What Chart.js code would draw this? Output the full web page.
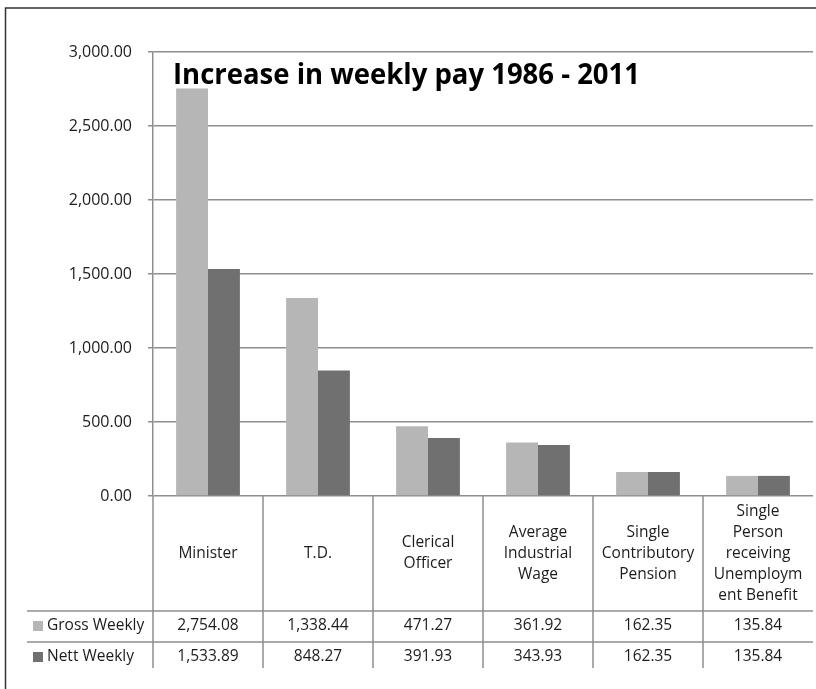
<!DOCTYPE html>
<html lang="en">
<head>
  <meta charset="UTF-8" />
  <title>Increase in weekly pay 1986 - 2011</title>
  <script src="https://cdn.jsdelivr.net/npm/chart.js"></script>
  <style>
    html, body { margin: 0; padding: 0; background: #fff; }
    canvas { display: block; }
  </style>
</head>
<body>
  <canvas id="payChart" width="816" height="689"></canvas>

  <script>
    // categories, one entry per line of the header cell
    const categories = [
      ['Minister'],
      ['T.D.'],
      ['Clerical', 'Officer'],
      ['Average', 'Industrial', 'Wage'],
      ['Single', 'Contributory', 'Pension'],
      ['Single', 'Person', 'receiving', 'Unemploym', 'ent Benefit']
    ];
    const seriesNames = ['Gross Weekly', 'Nett Weekly'];
    const grossWeekly = [2754.08, 1338.44, 471.27, 361.92, 162.35, 135.84];
    const nettWeekly = [1533.89, 848.27, 391.93, 343.93, 162.35, 135.84];
    const chartTitle = 'Increase in weekly pay 1986 - 2011';

    const FONT = '"Open Sans", "DejaVu Sans", sans-serif';
    const GRID = '#8e8e8e';
    const TEXT = '#1c1c1c';

    const fmt = v => Number(v).toLocaleString('en-US', { minimumFractionDigits: 2, maximumFractionDigits: 2 });

    // white page with the thin frame on top and left
    const framePlugin = {
      id: 'frame',
      beforeDraw(chart) {
        const ctx = chart.ctx;
        ctx.save();
        ctx.fillStyle = '#fff';
        ctx.fillRect(0, 0, chart.width, chart.height);
        ctx.strokeStyle = '#333';
        ctx.lineWidth = 1.5;
        ctx.beginPath();
        ctx.moveTo(chart.width, 8);
        ctx.lineTo(5.5, 8);
        ctx.lineTo(5.5, chart.height);
        ctx.stroke();
        ctx.restore();
      }
    };

    // bold title sitting inside the plot area
    const titlePlugin = {
      id: 'innerTitle',
      afterDraw(chart) {
        const { ctx, chartArea } = chart;
        ctx.save();
        ctx.font = 'bold 28px ' + FONT;
        ctx.fillStyle = '#000';
        ctx.textBaseline = 'alphabetic';
        const w = ctx.measureText(chartTitle).width;
        const target = 467;
        ctx.translate(chartArea.left + 20, 84);
        ctx.scale(target / w, 1);
        ctx.fillText(chartTitle, 0, 0);
        ctx.restore();
      }
    };

    // data table under the x axis: category names, then one row per series
    const tablePlugin = {
      id: 'dataTable',
      afterDraw(chart) {
        const { ctx, chartArea: a, scales: { x } } = chart;
        const colW = (a.right - a.left) / categories.length;
        const headBottom = a.bottom + 115;
        const rowH = 31;
        const tableBottom = headBottom + rowH + 26;
        const rows = [grossWeekly, nettWeekly];
        const swatch = ['#b6b6b6', '#707070'];

        ctx.save();
        ctx.strokeStyle = GRID;
        ctx.lineWidth = 1.5;
        ctx.beginPath();
        for (let i = 0; i < categories.length; i++) {
          const lx = a.left + i * colW;
          ctx.moveTo(lx, a.bottom);
          ctx.lineTo(lx, tableBottom);
        }
        for (let r = 0; r < rows.length; r++) {
          const ly = headBottom + r * rowH;
          ctx.moveTo(27, ly);
          ctx.lineTo(a.right, ly);
        }
        ctx.stroke();

        ctx.fillStyle = TEXT;
        ctx.font = '15.5px ' + FONT;
        ctx.textAlign = 'center';
        ctx.textBaseline = 'middle';
        const lineH = 21;
        const headMid = (a.bottom + headBottom) / 2;
        categories.forEach((lines, i) => {
          const cx = x.getPixelForValue(i);
          const y0 = headMid - (lines.length - 1) * lineH / 2;
          lines.forEach((t, j) => ctx.fillText(t, cx, y0 + j * lineH));
        });

        rows.forEach((vals, r) => {
          const cy = headBottom + r * rowH + 15;
          vals.forEach((v, i) => {
            ctx.fillStyle = TEXT;
            ctx.textAlign = 'center';
            ctx.fillText(fmt(v), x.getPixelForValue(i), cy);
          });
          ctx.fillStyle = swatch[r];
          ctx.fillRect(33, cy - 5, 10, 10);
          ctx.fillStyle = TEXT;
          ctx.textAlign = 'left';
          ctx.fillText(seriesNames[r], 47, cy);
        });
        ctx.restore();
      }
    };

    new Chart(document.getElementById('payChart'), {
      type: 'bar',
      data: {
        labels: categories.map(c => c.join(' ')),
        datasets: [
          {
            label: seriesNames[0],
            data: grossWeekly,
            backgroundColor: '#b6b6b6',
            categoryPercentage: 0.58,
            barPercentage: 1.0
          },
          {
            label: seriesNames[1],
            data: nettWeekly,
            backgroundColor: '#707070',
            categoryPercentage: 0.58,
            barPercentage: 1.0
          }
        ]
      },
      options: {
        responsive: false,
        animation: false,
        layout: { padding: { left: 0, top: 52, right: 3, bottom: 193 } },
        plugins: {
          legend: { display: false },
          title: { display: false },
          tooltip: { enabled: false }
        },
        scales: {
          x: { display: false },
          y: {
            min: 0,
            max: 3000,
            ticks: {
              stepSize: 500,
              padding: 16,
              color: TEXT,
              font: { family: FONT, size: 16 },
              callback: v => fmt(v)
            },
            grid: { color: GRID, lineWidth: 1.5, tickLength: 5 },
            border: { color: GRID, width: 1.5 },
            afterFit(scale) { scale.width = 153; }
          }
        }
      },
      plugins: [framePlugin, titlePlugin, tablePlugin]
    });
  </script>
</body>
</html>
